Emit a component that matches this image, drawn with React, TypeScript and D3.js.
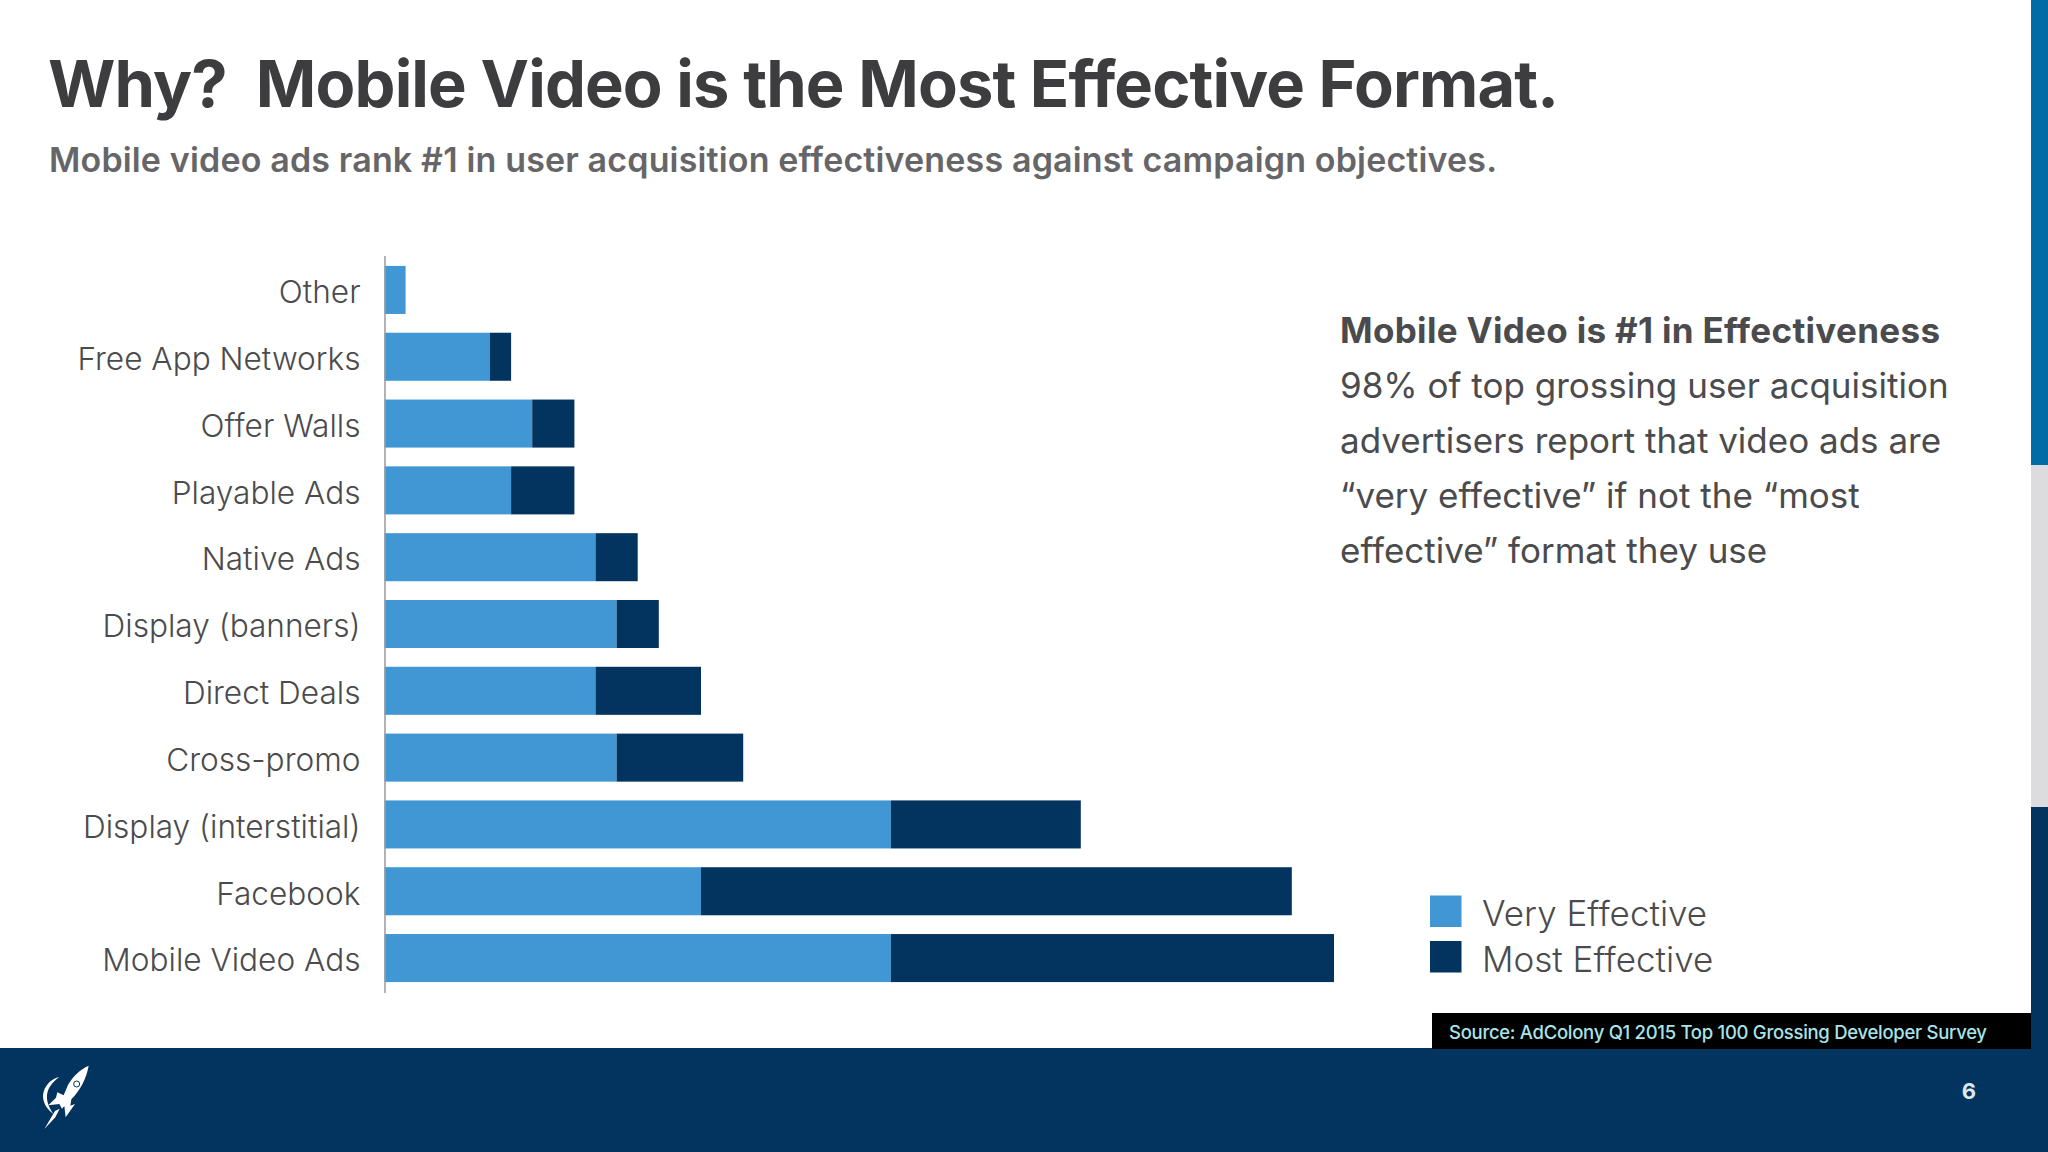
import React, { useRef, useEffect } from 'react';
import * as d3 from 'd3';

const categories = [
  'Other',
  'Free App Networks',
  'Offer Walls',
  'Playable Ads',
  'Native Ads',
  'Display (banners)',
  'Direct Deals',
  'Cross-promo',
  'Display (interstitial)',
  'Facebook',
  'Mobile Video Ads',
];
const veryEffective = [1, 5, 7, 6, 10, 11, 10, 11, 24, 15, 24];
const mostEffective = [0, 1, 2, 3, 2, 2, 5, 6, 9, 28, 21];

const seriesNames = ['Very Effective', 'Most Effective'];
const seriesColors = ['#4197d3', '#03345f'];

const noteLines = [
  '98% of top grossing user acquisition',
  'advertisers report that video ads are',
  '“very effective” if not the “most',
  'effective” format they use',
];

const FONT = 'Inter, sans-serif';
const TEXT = '#4b4b4d';

const App = () => {
  const chartRef = useRef<SVGGElement | null>(null);

  useEffect(() => {
    const g = d3.select(chartRef.current);
    g.selectAll('*').remove();

    const x = d3.scaleLinear().domain([0, 45]).range([384.5, 1334]);
    const y = d3.scaleBand<string>()
      .domain(categories)
      .range([255.5, 992.5])
      .paddingInner(0.281)
      .paddingOuter(0.156);

    const rows = categories.map((c, i) => ({ c, a: veryEffective[i], b: mostEffective[i] }));

    g.selectAll('.very')
      .data(rows)
      .enter()
      .append('rect')
      .attr('fill', seriesColors[0])
      .attr('x', x(0))
      .attr('y', d => y(d.c) ?? 0)
      .attr('width', d => x(d.a) - x(0))
      .attr('height', y.bandwidth());

    g.selectAll('.most')
      .data(rows)
      .enter()
      .append('rect')
      .attr('fill', seriesColors[1])
      .attr('x', d => x(d.a))
      .attr('y', d => y(d.c) ?? 0)
      .attr('width', d => x(d.a + d.b) - x(d.a))
      .attr('height', y.bandwidth());

    const axis = g.append('g')
      .attr('transform', `translate(${x(0)},0)`)
      .call(d3.axisLeft(y).tickSize(0).tickPadding(24));
    axis.select('.domain').attr('stroke', '#9a9a9a').attr('stroke-width', 1.5);
    axis.selectAll('text')
      .attr('font-family', FONT)
      .attr('font-size', 31.6)
      .attr('font-weight', 300)
      .attr('dy', '0.42em')
      .attr('fill', TEXT);
  }, []);

  return (
    <svg
      width={2048}
      height={1152}
      viewBox="0 0 2048 1152"
      style={{ position: 'absolute', left: 0, top: 0, background: '#fff' }}
      fontFamily={FONT}
    >
      <rect x={2031} y={0} width={17} height={465} fill="#006ca5" />
      <rect x={2031} y={465} width={17} height={342} fill="#dcdcde" />
      <rect x={2031} y={807} width={17} height={345} fill="#03345f" />
      <rect x={0} y={1048} width={2048} height={104} fill="#03345f" />

      <text x={48} y={107} fontSize={65} fontWeight={700} fill="#3d3d3f" textLength={1511} xmlSpace="preserve">
        Why?  Mobile Video is the Most Effective Format.
      </text>
      <text x={49} y={172} fontSize={34} fontWeight={600} fill="#666668" textLength={1448}>
        Mobile video ads rank #1 in user acquisition effectiveness against campaign objectives.
      </text>

      <g ref={chartRef} />

      <text x={1340} y={343} fontSize={35} fontWeight={700} fill={TEXT} textLength={600}>
        Mobile Video is #1 in Effectiveness
      </text>
      {noteLines.map((line, i) => (
        <text key={line} x={1340} y={398 + i * 55} fontSize={35} fill={TEXT}>
          {line}
        </text>
      ))}

      {seriesNames.map((name, i) => (
        <g key={name}>
          <rect x={1430} y={895.5 + i * 45.5} width={31.5} height={31.5} fill={seriesColors[i]} />
          <text x={1482} y={926 + i * 45.5} fontSize={35} fontWeight={300} fill={TEXT}>
            {name}
          </text>
        </g>
      ))}

      <rect x={1432} y={1013} width={599} height={36} fill="#000" />
      <text x={1449} y={1039} fontSize={18.5} fontWeight={500} fill="#a9e3e8" textLength={538}>
        Source: AdColony Q1 2015 Top 100 Grossing Developer Survey
      </text>
      <text x={1969} y={1099} fontSize={22} fontWeight={700} fill="#dfe8ef" textAnchor="middle">
        6
      </text>

      <g transform="translate(0,1030) scale(0.3333)" fill="#fff">
        <path d="M178,141 C132,152 105,210 160,252 C128,205 138,170 178,141 Z" />
        <path d="M266,107 C240,118 218,140 204,165 L191,196 L172,187 L168,203 L145,226 L178,222 L186,236 L193,228 L197,262 L225,222 L211,227 L214,208 C240,180 258,150 266,107 Z" />
        <path d="M133,297 L165,243 L179,236 L166,262 Z" />
        <circle cx={230} cy={162} r={9} fill="none" stroke="#03345f" strokeWidth={3} />
      </g>
    </svg>
  );
};

export default App;
